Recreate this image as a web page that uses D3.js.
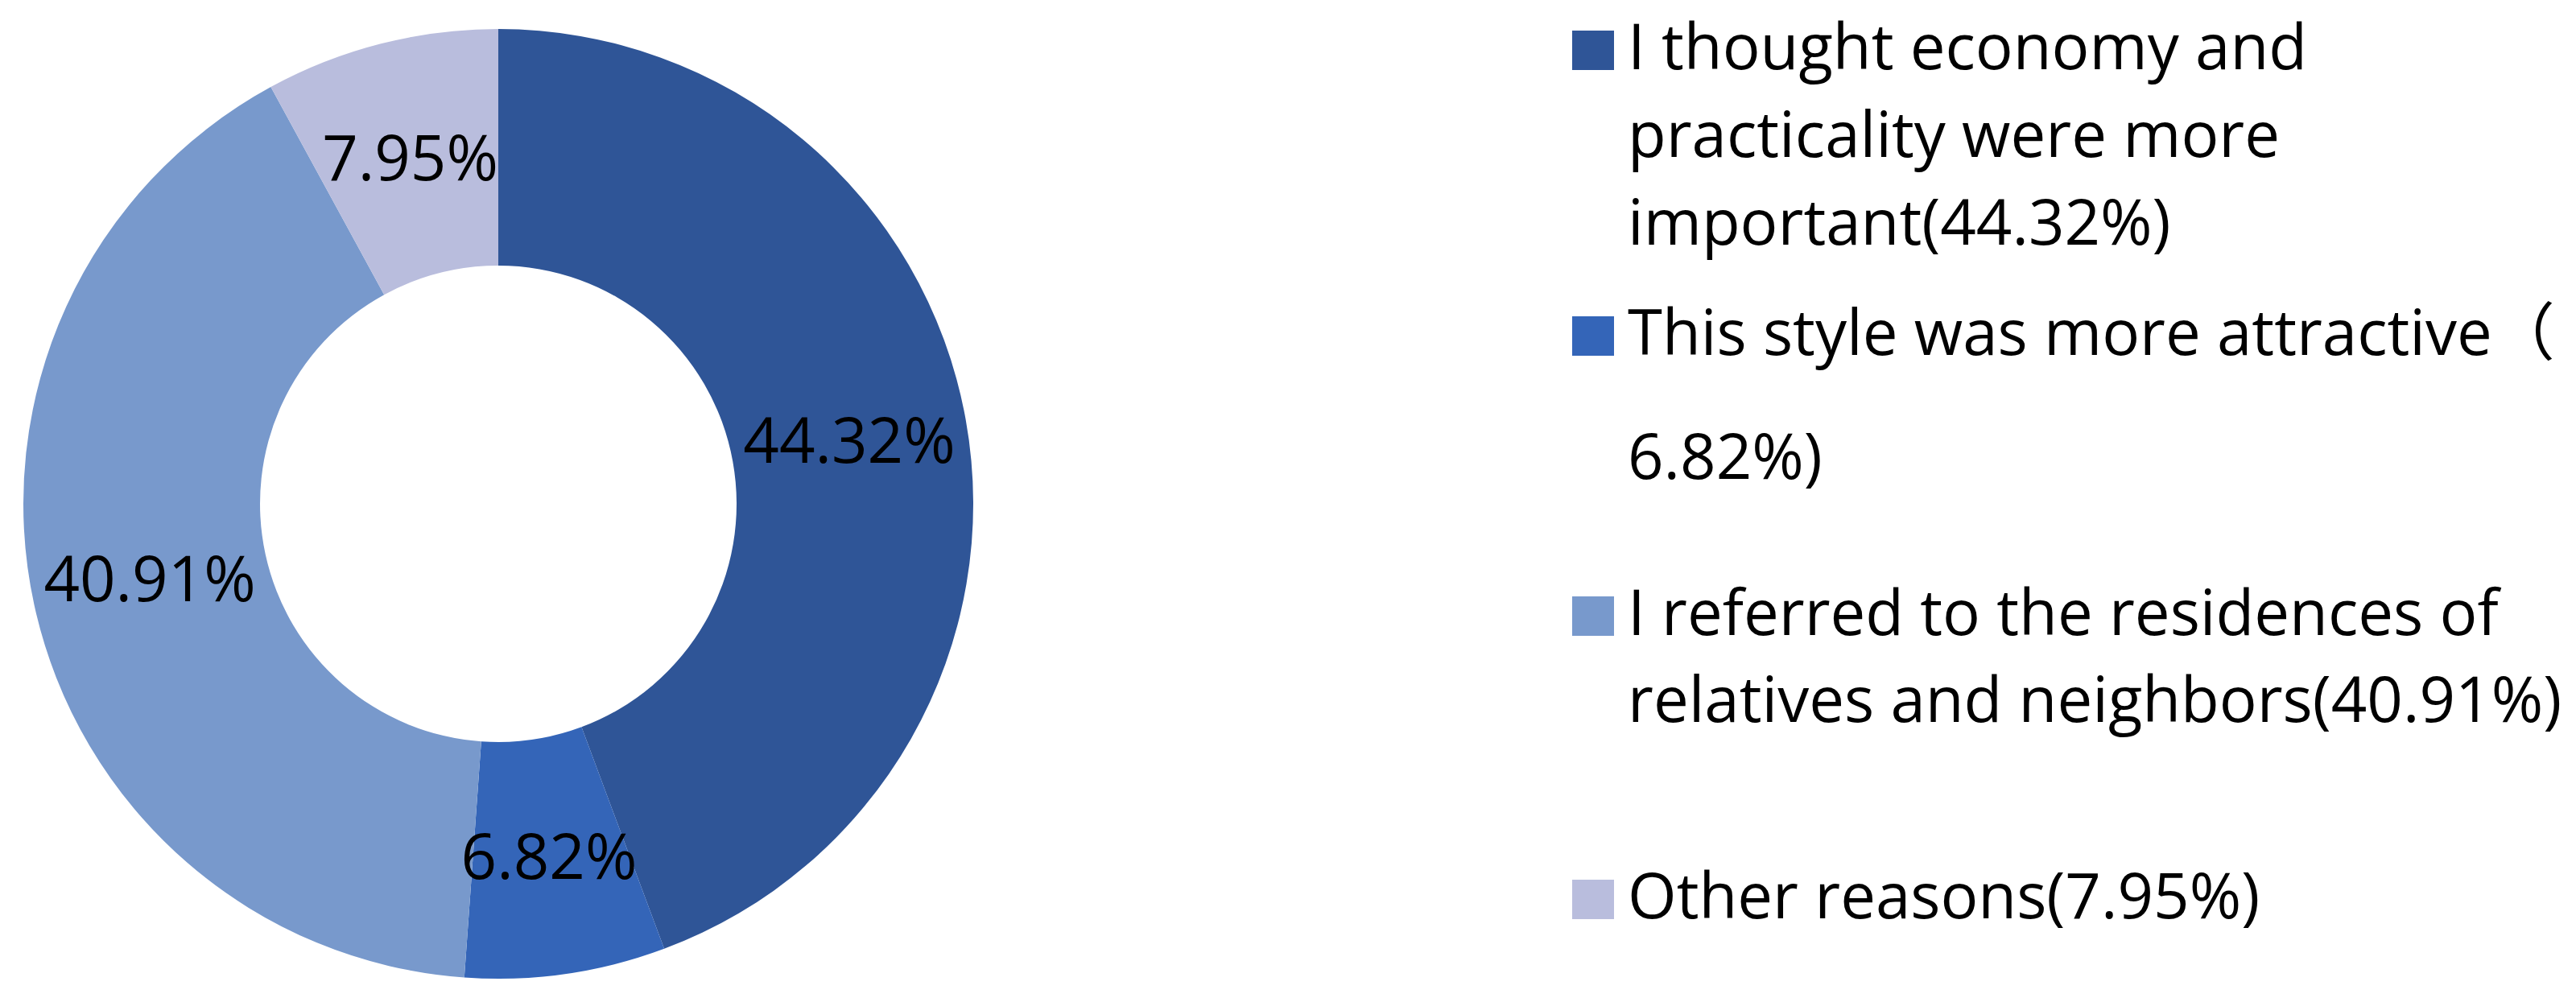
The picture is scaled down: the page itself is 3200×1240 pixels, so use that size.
<!DOCTYPE html>
<html>
<head>
<meta charset="utf-8">
<script src="https://cdn.jsdelivr.net/npm/d3@7"></script>
<style>
  body { margin: 0; background: #fff; }
  text { font-family: "Open Sans", "Noto Sans CJK SC", sans-serif; fill: #000; }
</style>
</head>
<body>
<div id="chart"></div>
<script>
// data
const values = [44.32, 6.82, 40.91, 7.95]
const legendLines = [
    ['I thought economy and', 'practicality were more', 'important(44.32%)'],
    ['This style was more attractive（', '6.82%)'],
    ['I referred to the residences of', 'relatives and neighbors(40.91%)'],
    ['Other reasons(7.95%)']
]
const colors = ['#2F5597', '#3465B8', '#7899CC', '#B9BDDD']

// layout
const width = 3200, height = 1240
const cx = 619, cy = 626
const outerR = 590, innerR = 296
const fontSize = 78
const legendX = 1953, legendTextX = 2022
// baselines of each legend line, the wide paren pushes line 2 of item 2 down
const legendBaselines = [[86, 195, 304], [441, 595], [789, 897], [1141]]

const svg = d3.select('#chart').append('svg')
    .attr('width', width)
    .attr('height', height)

const pie = d3.pie().sort(null).value(d => d)
const arc = d3.arc().innerRadius(innerR).outerRadius(outerR)
const fmt = d => d3.format('.2f')(d) + '%'

const g = svg.append('g')
    .attr('transform', 'translate(' + cx + ',' + cy + ')')

// slices
g.selectAll('path')
    .data(pie(values))
    .enter()
    .append('path')
    .attr('d', arc)
    .attr('fill', (d, i) => colors[i])

// labels in the middle of the ring
g.selectAll('text')
    .data(pie(values))
    .enter()
    .append('text')
    .attr('transform', d => 'translate(' + arc.centroid(d) + ')')
    .attr('text-anchor', 'middle')
    .attr('dy', '0.35em')
    .style('font-size', fontSize + 'px')
    .text(d => fmt(d.data))

// legend
const item = svg.append('g').selectAll('g')
    .data(legendLines)
    .enter()
    .append('g')

item.append('rect')
    .attr('x', legendX)
    .attr('y', (d, i) => legendBaselines[i][0] - 48)
    .attr('width', 52)
    .attr('height', 49)
    .attr('fill', (d, i) => colors[i])

item.each(function(lines, i) {
    d3.select(this).selectAll('text')
        .data(lines)
        .enter()
        .append('text')
        .attr('x', legendTextX)
        .attr('y', (t, j) => legendBaselines[i][j])
        .style('font-size', fontSize + 'px')
        .text(t => t)
})
</script>
</body>
</html>
